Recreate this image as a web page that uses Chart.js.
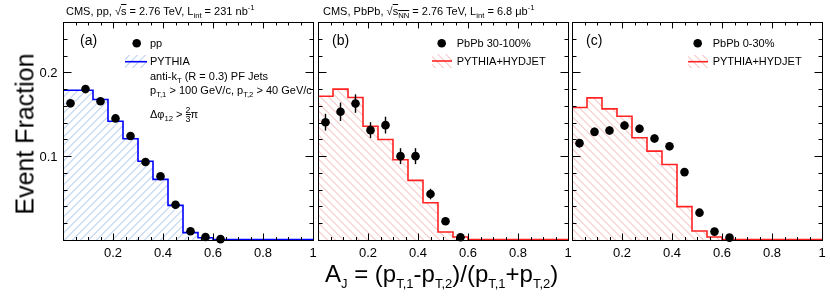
<!DOCTYPE html>
<html><head><meta charset="utf-8">
<script src="https://cdn.jsdelivr.net/npm/chart.js@4.4.1/dist/chart.umd.min.js"></script>
<style>
html,body{margin:0;padding:0;background:#fff;}
#wrap{position:relative;width:830px;height:296px;overflow:hidden;font-family:"Liberation Sans",Arial,Helvetica,sans-serif;color:#000;}
canvas{position:absolute;left:0;top:0;}
.t{position:absolute;white-space:nowrap;line-height:1;}
.t sub,.t sup{font-size:0.7em;line-height:0;}
.ov{text-decoration:overline;}
.frac{display:inline-block;vertical-align:middle;text-align:center;font-size:0.8em;line-height:0.95;}
.frac span{display:block;}
.frac .n{border-bottom:1px solid #000;}
</style></head><body>
<div id="wrap">
<canvas id="ca" width="830" height="296"></canvas>
<canvas id="cb" width="830" height="296"></canvas>
<canvas id="cc" width="830" height="296"></canvas>

<div class="t" style="left:66px;top:5.7px;font-size:11px;">CMS, pp, √<span class="ov">s</span> = 2.76 TeV, L<sub>int</sub> = 231 nb<sup>-1</sup></div>
<div class="t" style="left:323px;top:5.7px;font-size:11px;">CMS, PbPb, √<span class="ov">s<sub>NN</sub></span> = 2.76 TeV, L<sub>int</sub> = 6.8 μb<sup>-1</sup></div>

<div class="t" style="left:80px;top:33px;font-size:14px;">(a)</div>
<div class="t" style="left:332px;top:33px;font-size:14px;">(b)</div>
<div class="t" style="left:586px;top:33px;font-size:14px;">(c)</div>

<div class="t" style="left:150px;top:37.8px;font-size:11px;">pp</div>
<div class="t" style="left:150px;top:55.7px;font-size:11px;">PYTHIA</div>
<div class="t" style="left:150px;top:70.7px;font-size:11px;">anti-k<sub>T</sub> (R = 0.3) PF Jets</div>
<div class="t" style="left:150px;top:84.5px;font-size:11px;">p<sub>T,1</sub> &gt; 100 GeV/c, p<sub>T,2</sub> &gt; 40 GeV/c</div>
<div class="t" style="left:150px;top:105.7px;font-size:11px;">Δφ<sub>12</sub> &gt; <span class="frac"><span class="n">2</span><span>3</span></span>π</div>

<div class="t" style="left:456.7px;top:38.2px;font-size:11px;">PbPb 30-100%</div>
<div class="t" style="left:456.7px;top:55.7px;font-size:11px;">PYTHIA+HYDJET</div>
<div class="t" style="left:712.7px;top:38.2px;font-size:11px;">PbPb 0-30%</div>
<div class="t" style="left:712.7px;top:55.7px;font-size:11px;">PYTHIA+HYDJET</div>

<div class="t" style="left:325px;top:261.7px;font-size:24px;">A<sub style="font-size:13px">J</sub> = (p<sub style="font-size:13px">T,1</sub>-p<sub style="font-size:13px">T,2</sub>)/(p<sub style="font-size:13px">T,1</sub>+p<sub style="font-size:13px">T,2</sub>)</div>
<div class="t" style="left:25px;top:134px;font-size:25px;transform:translate(-50%,-50%) rotate(-90deg);">Event Fraction</div>
</div>

<script>
// ---------------- data ----------------
const binEdges   = [0, 0.06, 0.12, 0.18, 0.24, 0.30, 0.36, 0.42, 0.48, 0.54, 0.60, 0.66, 1.0];
const binCenters = [0.03, 0.09, 0.15, 0.21, 0.27, 0.33, 0.39, 0.45, 0.51, 0.57, 0.63];

// (a) pp
const ppData     = [0.163, 0.180, 0.1655, 0.145, 0.124, 0.093, 0.076, 0.042, 0.0104, 0.0036, 0.001];
const ppErr      = [0.003, 0.003, 0.003, 0.003, 0.003, 0.003, 0.0025, 0.002, 0.0012, 0.0008, 0.0005];
const ppPythia   = [0.1786, 0.1786, 0.1675, 0.1417, 0.1207, 0.094, 0.0723, 0.0413, 0.0088, 0.0027, 0.0006, 0.0004];

// (b) PbPb 30-100%
const periphData = [0.1405, 0.1529, 0.1627, 0.131, 0.137, 0.100, 0.100, 0.0548, 0.0223, 0.0032, null];
const periphErr  = [0.010, 0.011, 0.011, 0.0095, 0.010, 0.0095, 0.0095, 0.0063, 0.003, 0.0015, 0];
const periphMC   = [0.1714, 0.180, 0.170, 0.1357, 0.1199, 0.0957, 0.0711, 0.0445, 0.0095, 0.0035, 0.0006, 0.0004];

// (c) PbPb 0-30%
const centData   = [0.1155, 0.129, 0.1306, 0.1365, 0.1326, 0.121, 0.1119, 0.081, 0.0326, 0.010, 0.0028];
const centErr    = [0.005, 0.005, 0.005, 0.005, 0.005, 0.005, 0.005, 0.0045, 0.003, 0.0015, 0.0008];
const centMC     = [0.158, 0.1695, 0.1564, 0.1476, 0.1219, 0.106, 0.0901, 0.0398, 0.0107, 0.0035, 0.0006, 0.0004];

// ticks
const xMajorTicks  = [0.2, 0.4, 0.6, 0.8, 1.0];
const xTickLabels  = ['0.2', '0.4', '0.6', '0.8', '1'];
const xMinorTicks  = [0.05,0.1,0.15,0.25,0.3,0.35,0.45,0.5,0.55,0.65,0.7,0.75,0.85,0.9,0.95];
const yMajorTicks  = [0.1, 0.2];
const yTickLabels  = ['0.1', '0.2'];
const yMinorTicks  = [0.02,0.04,0.06,0.08,0.12,0.14,0.16,0.18,0.22,0.24];
const yRange = [0, 0.26];
const xRange = [0, 1];

// ---------------- helpers ----------------
const FONT = '"Liberation Sans", Arial, Helvetica, sans-serif';

// two-pixel soft diagonal hatch
function hatchPattern(ctx, color, dir) {
  const n = 8;
  const c = document.createElement('canvas');
  c.width = n; c.height = n;
  const g = c.getContext('2d');
  g.fillStyle = color;
  for (let i = 0; i < n; i++) {
    const y1 = dir === '/' ? (n - 1 - i) : i;
    const y2 = dir === '/' ? ((n - i) % n) : ((i + 1) % n);
    g.fillRect(i, y1, 1, 1);
    g.fillRect(i, y2, 1, 1);
  }
  return ctx.createPattern(c, 'repeat');
}

function histPoints(vals) {
  const pts = vals.map((v, i) => ({x: binEdges[i], y: v}));
  pts.push({x: binEdges[binEdges.length - 1], y: vals[vals.length - 1]});
  return pts;
}
function dataPoints(vals) {
  const pts = [];
  vals.forEach((v, i) => { if (v !== null) pts.push({x: binCenters[i], y: v}); });
  return pts;
}

function panelPlugin(cfg) {
  return {
    id: 'panel_' + cfg.name,
    afterDatasetsDraw(chart) {
      const {ctx, scales: {x, y}} = chart;
      ctx.save();
      ctx.strokeStyle = '#000'; ctx.lineWidth = 1.4;
      cfg.vals.forEach((v, i) => {
        if (v === null) return;
        const e = cfg.errs[i];
        const px = x.getPixelForValue(binCenters[i]);
        ctx.beginPath();
        ctx.moveTo(px, y.getPixelForValue(Math.max(v - e, 0)));
        ctx.lineTo(px, y.getPixelForValue(v + e));
        ctx.stroke();
      });
      ctx.restore();
    },
    afterDraw(chart) {
      const {ctx, chartArea: a, scales: {x, y}} = chart;
      ctx.save();
      ctx.strokeStyle = '#000'; ctx.lineWidth = 1;
      const L = Math.round(a.left) + 0.5, R = Math.round(a.right) + 0.5;
      const T = Math.round(a.top) + 0.5, B = Math.round(a.bottom) + 0.5;
      ctx.strokeRect(L, T, R - L, B - T);
      ctx.beginPath();
      const xt = (v, len) => {
        const px = Math.round(x.getPixelForValue(v)) + 0.5;
        ctx.moveTo(px, B); ctx.lineTo(px, B - len);
        ctx.moveTo(px, T); ctx.lineTo(px, T + len * 0.85);
      };
      const yt = (v, len) => {
        const py = Math.round(y.getPixelForValue(v)) + 0.5;
        ctx.moveTo(L, py); ctx.lineTo(L + len, py);
        ctx.moveTo(R, py); ctx.lineTo(R - len, py);
      };
      xMajorTicks.forEach(v => xt(v, 7));
      xMinorTicks.forEach(v => xt(v, 3.5));
      yMajorTicks.forEach(v => yt(v, 8));
      yMinorTicks.forEach(v => yt(v, 4));
      ctx.stroke();

      ctx.fillStyle = '#000';
      ctx.font = '13px ' + FONT;
      ctx.textAlign = 'center'; ctx.textBaseline = 'alphabetic';
      xMajorTicks.forEach((v, i) => ctx.fillText(xTickLabels[i], x.getPixelForValue(v), a.bottom + 16.5));
      if (cfg.yLabels) {
        ctx.textAlign = 'right';
        yMajorTicks.forEach((v, i) => ctx.fillText(yTickLabels[i], a.left - 5.5, y.getPixelForValue(v) + 4.7));
      }

      // legend symbols
      const lg = cfg.legend;
      ctx.beginPath();
      ctx.arc(lg.dot[0], lg.dot[1], 4.3, 0, Math.PI * 2);
      ctx.fillStyle = '#000'; ctx.fill();
      ctx.fillStyle = cfg.pattern;
      ctx.fillRect(lg.box[0], lg.box[1], lg.box[2], lg.box[3]);
      ctx.strokeStyle = cfg.color; ctx.lineWidth = 1.6;
      ctx.beginPath();
      ctx.moveTo(lg.box[0], lg.lineY); ctx.lineTo(lg.box[0] + lg.box[2], lg.lineY);
      ctx.stroke();
      ctx.restore();
    }
  };
}

function makePanel(id, cfg) {
  const canvas = document.getElementById(id);
  const ctx = canvas.getContext('2d');
  const pattern = hatchPattern(ctx, cfg.hatchColor, cfg.hatchDir);
  cfg.pattern = pattern;
  return new Chart(ctx, {
    type: 'scatter',
    data: {
      datasets: [
        {
          label: cfg.dataLabel,
          data: dataPoints(cfg.vals),
          pointRadius: 4.3, pointHoverRadius: 4.3,
          pointBackgroundColor: '#000', pointBorderColor: '#000', pointBorderWidth: 0,
          showLine: false, clip: false, order: 0
        },
        {
          label: cfg.mcLabel,
          data: histPoints(cfg.mc),
          showLine: true, stepped: true,
          borderColor: cfg.color, borderWidth: 1.6,
          backgroundColor: pattern, fill: 'origin',
          pointRadius: 0, pointHoverRadius: 0, order: 1
        }
      ]
    },
    options: {
      responsive: false, animation: false, devicePixelRatio: 1,
      layout: {padding: {left: cfg.area[0], right: 830 - cfg.area[1], top: 22, bottom: 296 - 240}},
      plugins: {legend: {display: false}, tooltip: {enabled: false}},
      events: [],
      scales: {
        x: {type: 'linear', min: xRange[0], max: xRange[1], display: false},
        y: {type: 'linear', min: yRange[0], max: yRange[1], display: false}
      }
    },
    plugins: [panelPlugin(cfg)]
  });
}

makePanel('ca', {
  name: 'a', area: [63, 313], vals: ppData, errs: ppErr, mc: ppPythia,
  color: '#0000ff', hatchColor: '#d0def5', hatchDir: '/', yLabels: true,
  dataLabel: 'pp', mcLabel: 'PYTHIA',
  legend: {dot: [136.7, 43.3], box: [125, 55, 22, 13], lineY: 61.7}
});
makePanel('cb', {
  name: 'b', area: [318, 568], vals: periphData, errs: periphErr, mc: periphMC,
  color: '#ff2222', hatchColor: '#fad6d6', hatchDir: '\\', yLabels: false,
  dataLabel: 'PbPb 30-100%', mcLabel: 'PYTHIA+HYDJET',
  legend: {dot: [441.7, 43.3], box: [432, 54, 20, 14], lineY: 61}
});
makePanel('cc', {
  name: 'c', area: [572, 822], vals: centData, errs: centErr, mc: centMC,
  color: '#ff2222', hatchColor: '#fad6d6', hatchDir: '\\', yLabels: false,
  dataLabel: 'PbPb 0-30%', mcLabel: 'PYTHIA+HYDJET',
  legend: {dot: [697.7, 43.3], box: [688, 55, 20, 13], lineY: 61.7}
});
</script>
</body></html>
